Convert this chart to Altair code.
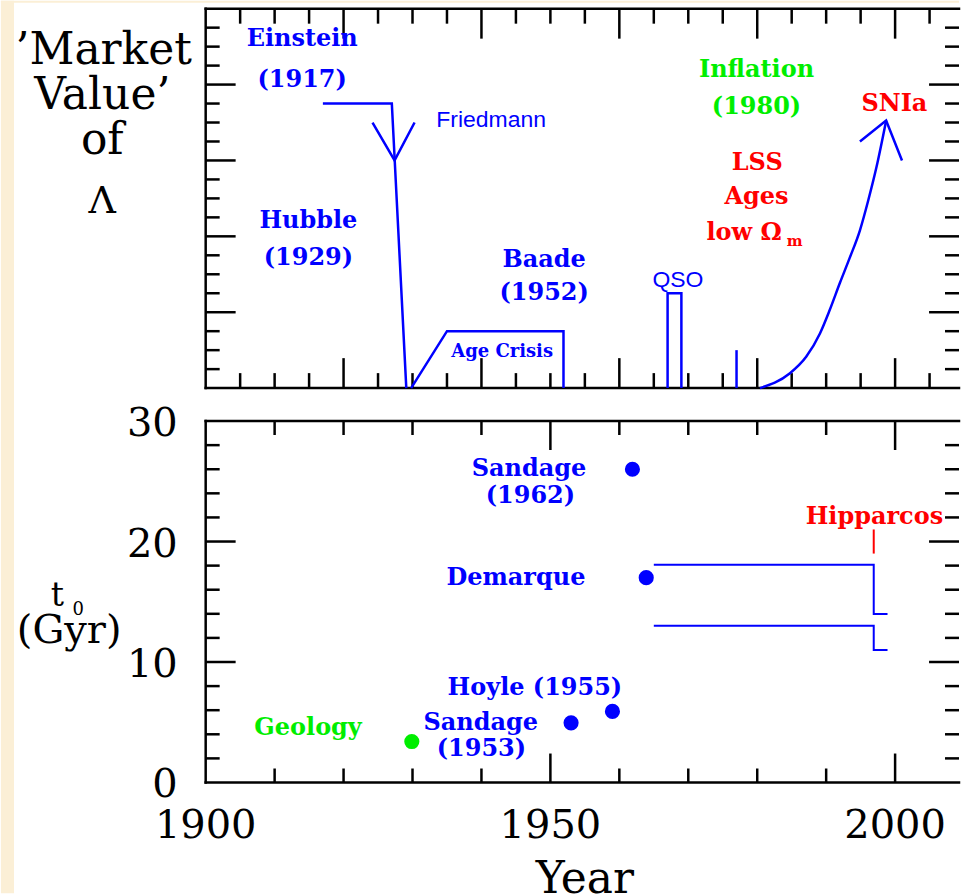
import altair as alt
import pandas as pd

BLUE = "#0000ff"
RED = "#ff0000"
GREEN = "#00ee00"
INK = "#000000"
CREAM = "#fbefd6"

SERIF = "DejaVu Serif"
SANS = "Liberation Sans"

PX_PER_YEAR = 6.905
W = 754.5      # plot width shown for both panels
H_TOP = 380    # 'market value' panel
H_BOT = 362    # age panel
GAP = 33

YEAR_DOMAIN = [1900, 1900 + W / PX_PER_YEAR]
LAMBDA_DOMAIN = [0, 20]
AGE_DOMAIN = [0, 30]

# ---------------- 'market value' of Lambda ----------------
einstein_year = [1917.0, 1927.0, 1929.1]
einstein_val = [15.0, 15.0, 0.0]
friedmann_year = [1924.2, 1927.4, 1930.3]
friedmann_val = [14.0, 12.0, 14.0]
crisis_year = [1929.8, 1935.0, 1951.9, 1951.9]
crisis_val = [0.0, 3.0, 3.0, 0.0]
qso_year = [1967.0, 1967.0, 1969.0, 1969.0]
qso_val = [0.0, 5.0, 5.0, 0.0]
blip_year = [1977.0, 1977.0]
blip_val = [0.0, 2.0]
snia_year = [1980.4, 1984.7, 1987.1, 1989.1, 1990.5, 1992.0, 1993.4, 1994.9, 1996.1, 1997.3, 1998.7]
snia_val = [0.0, 0.77, 1.65, 2.88, 4.1, 5.55, 6.85, 8.32, 9.89, 11.65, 14.1]
snia_head_year = [1994.9, 1998.7, 2001.0]
snia_head_val = [13.0, 14.1, 12.0]

event_labels = ["Einstein", "(1917)", "Hubble", "(1929)", "Baade", "(1952)",
                "Inflation", "(1980)", "LSS", "Ages", "low Ω", "SNIa"]
event_year = [1914.0, 1914.0, 1914.9, 1914.9, 1949.1, 1949.1,
              1979.9, 1979.9, 1980.0, 1979.9, 1978.1, 1999.9]
event_val = [18.05, 15.89, 8.42, 6.47, 6.38, 4.63,
             16.42, 14.47, 11.51, 9.72, 7.79, 14.63]
event_kind = ["theory"] * 6 + ["inflation"] * 2 + ["observation"] * 4

omega_sub = ["m"]
omega_sub_year = [1985.45]
omega_sub_val = [7.47]

crisis_label = ["Age Crisis"]
crisis_label_year = [1943.0]
crisis_label_val = [1.65]

plain_labels = ["Friedmann", "QSO"]
plain_year = [1941.4, 1968.5]
plain_val = [13.75, 5.33]

lambda_title = ["’Market", "Value’", "of"]
lambda_title_year = [1885.2, 1885.0, 1885.0]
lambda_title_val = [17.09, 14.72, 12.35]
lambda_symbol = ["Λ"]
lambda_symbol_year = [1885.0]
lambda_symbol_val = [9.21]

# ---------------- age of the universe ----------------
age_year = [1961.9, 1963.9, 1959.0, 1953.0, 1929.9]
age_gyr = [26.0, 17.0, 5.9, 4.95, 3.4]
age_kind = ["stellar", "stellar", "stellar", "stellar", "geology"]

upper_year = [1965.0, 1996.9, 1996.9, 1998.9]
upper_gyr = [18.07, 18.07, 13.98, 13.98]
lower_year = [1965.0, 1996.9, 1996.9, 1998.9]
lower_gyr = [13.0, 13.0, 11.0, 11.0]
hip_year = [1996.9, 1996.9]
hip_gyr = [19.0, 21.0]

age_labels = ["Sandage", "(1962)", "Demarque", "Hoyle (1955)", "Sandage", "(1953)",
              "Geology", "Hipparcos"]
age_label_year = [1946.9, 1947.1, 1945.0, 1947.75, 1939.9, 1940.0, 1914.85, 1997.0]
age_label_gyr = [25.44, 23.2, 16.41, 7.29, 4.39, 2.18, 3.98, 21.46]
age_label_kind = ["stellar"] * 6 + ["geology", "hipparcos"]

year_ticks = [1900, 1950, 2000]
gyr_ticks = [0, 10, 20, 30]

age_axis_title = ["t", "0", "(Gyr)", "Year"]
age_axis_title_year = [1878.5, 1881.5, 1880.2, 1955.0]
age_axis_title_gyr = [14.61, 13.9, 11.58, -9.14]

# page margin (left and top strips), in years along the time axis
margin_x0 = [1870.3, 1870.3]
margin_x1 = [1872.2, YEAR_DOMAIN[1]]

# ---------------- encodings ----------------
KIND_COLOR = alt.Scale(
    domain=["theory", "inflation", "observation", "stellar", "geology", "hipparcos"],
    range=[BLUE, GREEN, RED, BLUE, GREEN, RED],
)
YEAR_SCALE = alt.Scale(domain=YEAR_DOMAIN, nice=False, zero=False)
X = alt.X("year:Q", scale=YEAR_SCALE, axis=None)
Y_TOP = alt.Y("val:Q", scale=alt.Scale(domain=LAMBDA_DOMAIN, nice=False, zero=False), axis=None)
Y_BOT = alt.Y("val:Q", scale=alt.Scale(domain=AGE_DOMAIN, nice=False, zero=False), axis=None)


def paths(named):
    rows = []
    for name, xs, ys in named:
        for i, (x, y) in enumerate(zip(xs, ys)):
            rows.append({"path": name, "step": i, "year": x, "val": y})
    return pd.DataFrame(rows)


def labels(texts, xs, ys, kinds=None):
    df = pd.DataFrame({"label": texts, "year": xs, "val": ys})
    if kinds is not None:
        df["kind"] = kinds
    return df


def frame(h):
    """Left, top and bottom edges of a panel (the right edge lies past the page)."""
    span = pd.DataFrame({"year": [YEAR_DOMAIN[0]], "year_end": [YEAR_DOMAIN[1]]})
    rule = alt.Chart(span).mark_rule(color=INK, strokeWidth=2.5, strokeCap="square")
    return [
        rule.encode(x=X, y=alt.value(0), y2=alt.value(h)),
        rule.encode(x=X, x2="year_end:Q", y=alt.value(0)),
        rule.encode(x=X, x2="year_end:Q", y=alt.value(h)),
    ]


def frame_ticks(y_enc, h, x_minor, x_major, y_minor, y_major, x_len, y_len):
    layers = []
    for vals, ln in ((x_minor, x_len[0]), (x_major, x_len[1])):
        src = alt.Chart(pd.DataFrame({"year": vals})).mark_rule(color=INK, strokeWidth=2.5)
        layers.append(src.encode(x=X, y=alt.value(h), y2=alt.value(h - ln)))
        layers.append(src.encode(x=X, y=alt.value(0), y2=alt.value(ln)))
    for vals, ln in ((y_minor, y_len[0]), (y_major, y_len[1])):
        src = alt.Chart(pd.DataFrame({"val": vals})).mark_rule(color=INK, strokeWidth=2.5)
        layers.append(src.encode(y=y_enc, x=alt.value(0), x2=alt.value(ln)))
        layers.append(src.encode(y=y_enc, x=alt.value(W), x2=alt.value(W - ln)))
    return layers + frame(h)


# ---------------- top panel ----------------
margin_df = pd.DataFrame({"x0": margin_x0, "x1": margin_x1})
X0 = alt.X("x0:Q", scale=YEAR_SCALE, axis=None)
left_strip = alt.Chart(margin_df.iloc[[0]]).mark_rect(color=CREAM).encode(
    x=X0, x2="x1:Q", y=alt.value(-8), y2=alt.value(886))
top_strip = alt.Chart(margin_df.iloc[[1]]).mark_rect(color=CREAM).encode(
    x=X0, x2="x1:Q", y=alt.value(-8), y2=alt.value(-6))

lambda_paths = paths([
    ("einstein", einstein_year, einstein_val),
    ("friedmann", friedmann_year, friedmann_val),
    ("crisis", crisis_year, crisis_val),
    ("qso", qso_year, qso_val),
    ("blip", blip_year, blip_val),
    ("snia head", snia_head_year, snia_head_val),
])
lambda_lines = alt.Chart(lambda_paths).mark_line(color=BLUE, strokeWidth=2.5).encode(
    x=X, y=Y_TOP, detail="path:N", order="step:Q")
snia_curve = alt.Chart(paths([("snia", snia_year, snia_val)])).mark_line(
    color=BLUE, strokeWidth=2.5, interpolate="monotone").encode(x=X, y=Y_TOP, order="step:Q")

event_text = alt.Chart(labels(event_labels, event_year, event_val, event_kind)).mark_text(
    font=SERIF, fontWeight="bold", fontSize=24, baseline="alphabetic").encode(
    x=X, y=Y_TOP, text="label:N", color=alt.Color("kind:N", scale=KIND_COLOR, legend=None))
sub_text = alt.Chart(labels(omega_sub, omega_sub_year, omega_sub_val)).mark_text(
    font=SERIF, fontWeight="bold", fontSize=15, baseline="alphabetic", color=RED).encode(
    x=X, y=Y_TOP, text="label:N")
crisis_text = alt.Chart(labels(crisis_label, crisis_label_year, crisis_label_val)).mark_text(
    font=SERIF, fontWeight="bold", fontSize=18, baseline="alphabetic", color=BLUE).encode(
    x=X, y=Y_TOP, text="label:N")
plain_text = alt.Chart(labels(plain_labels, plain_year, plain_val)).mark_text(
    font=SANS, fontSize=23, baseline="alphabetic", color=BLUE).encode(
    x=X, y=Y_TOP, text="label:N")
title_text = alt.Chart(labels(lambda_title, lambda_title_year, lambda_title_val)).mark_text(
    font=SERIF, fontSize=44, baseline="alphabetic", color=INK).encode(
    x=X, y=Y_TOP, text="label:N")
symbol_text = alt.Chart(labels(lambda_symbol, lambda_symbol_year, lambda_symbol_val)).mark_text(
    font=SERIF, fontSize=38, baseline="alphabetic", color=INK).encode(
    x=X, y=Y_TOP, text="label:N")

top = alt.layer(
    left_strip, top_strip,
    *frame_ticks(Y_TOP, H_TOP,
                 [y for y in range(1905, 2010, 5) if y % 20], [1920, 1940, 1960, 1980, 2000],
                 [v for v in range(1, 20) if v % 4], [4, 8, 12, 16],
                 (15, 30), (14, 30)),
    lambda_lines, snia_curve, event_text, sub_text, crisis_text, plain_text,
    title_text, symbol_text,
).properties(width=W, height=H_TOP)

# ---------------- bottom panel ----------------
age_paths = paths([
    ("upper", upper_year, upper_gyr),
    ("lower", lower_year, lower_gyr),
])
age_lines = alt.Chart(age_paths).mark_line(color=BLUE, strokeWidth=2).encode(
    x=X, y=Y_BOT, detail="path:N", order="step:Q")
hip_line = alt.Chart(paths([("hipparcos", hip_year, hip_gyr)])).mark_line(
    color=RED, strokeWidth=2).encode(x=X, y=Y_BOT, order="step:Q")
age_points = alt.Chart(pd.DataFrame({"year": age_year, "val": age_gyr, "kind": age_kind})).mark_circle(
    size=230, opacity=1).encode(
    x=X, y=Y_BOT, color=alt.Color("kind:N", scale=KIND_COLOR, legend=None))
age_text = alt.Chart(labels(age_labels, age_label_year, age_label_gyr, age_label_kind)).mark_text(
    font=SERIF, fontWeight="bold", fontSize=24, baseline="alphabetic").encode(
    x=X, y=Y_BOT, text="label:N", color=alt.Color("kind:N", scale=KIND_COLOR, legend=None))

tick_x_df = pd.DataFrame({"year": year_ticks, "val": [AGE_DOMAIN[0]] * len(year_ticks)})
x_tick_text = alt.Chart(tick_x_df).mark_text(
    font=SERIF, fontSize=40, baseline="alphabetic", dy=56, color=INK).encode(
    x=X, y=Y_BOT, text=alt.Text("year:Q", format="d"))
tick_y_df = pd.DataFrame({"year": [YEAR_DOMAIN[0]] * len(gyr_ticks), "val": gyr_ticks})
y_tick_text = alt.Chart(tick_y_df).mark_text(
    font=SERIF, fontSize=40, baseline="alphabetic", align="right", dx=-28, dy=15, color=INK).encode(
    x=X, y=Y_BOT, text=alt.Text("val:Q", format="d"))

axis_title_df = labels(age_axis_title, age_axis_title_year, age_axis_title_gyr)
t_text = alt.Chart(axis_title_df.iloc[[0]]).mark_text(
    font=SERIF, fontSize=33, baseline="alphabetic", color=INK).encode(x=X, y=Y_BOT, text="label:N")
t_sub = alt.Chart(axis_title_df.iloc[[1]]).mark_text(
    font=SERIF, fontSize=18, baseline="alphabetic", color=INK).encode(x=X, y=Y_BOT, text="label:N")
gyr_text = alt.Chart(axis_title_df.iloc[[2]]).mark_text(
    font=SERIF, fontSize=40, baseline="alphabetic", color=INK).encode(x=X, y=Y_BOT, text="label:N")
year_text = alt.Chart(axis_title_df.iloc[[3]]).mark_text(
    font=SERIF, fontSize=44, baseline="alphabetic", color=INK).encode(x=X, y=Y_BOT, text="label:N")

bottom = alt.layer(
    *frame_ticks(Y_BOT, H_BOT,
                 [y for y in range(1910, 2010, 10) if y % 50], [1950, 2000],
                 [v for v in range(2, 30, 2) if v % 10], [10, 20],
                 (14, 29), (14, 30)),
    age_lines, hip_line, age_points, age_text,
    x_tick_text, y_tick_text, t_text, t_sub, gyr_text, year_text,
).properties(width=W, height=H_BOT)

chart = alt.vconcat(top, bottom, spacing=GAP, bounds="flush").properties(
    padding=0, background="white"
).configure_view(stroke=None)

chart.save("out.html", embed_options={"renderer": "svg", "actions": False})
